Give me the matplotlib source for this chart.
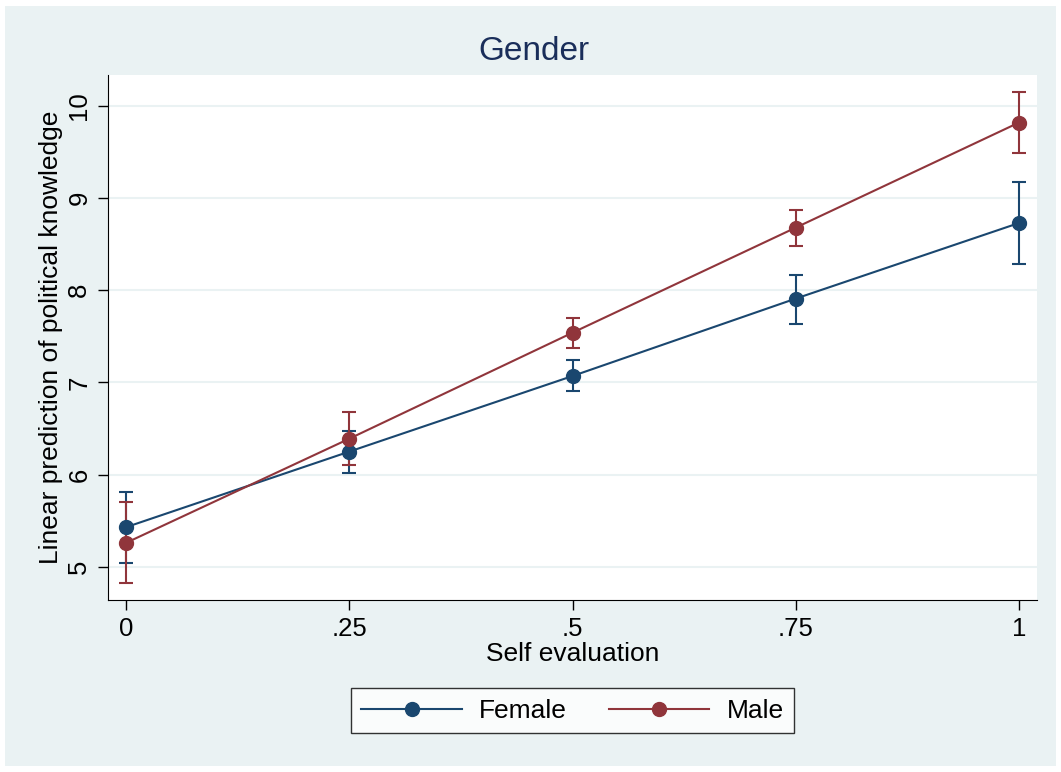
import numpy as np
import matplotlib.pyplot as plt
from matplotlib.patches import Rectangle

plt.rcParams['font.family'] = ['Liberation Sans', 'DejaVu Sans']

x = [0, 0.25, 0.5, 0.75, 1]
xticklabels = ['0', '.25', '.5', '.75', '1']

female = [5.43, 6.25, 7.07, 7.91, 8.73]
female_lo = [5.04, 6.02, 6.91, 7.63, 8.29]
female_hi = [5.81, 6.47, 7.24, 8.17, 9.17]

male = [5.26, 6.39, 7.54, 8.68, 9.82]
male_lo = [4.82, 6.11, 7.37, 8.48, 9.49]
male_hi = [5.70, 6.68, 7.70, 8.87, 10.15]

navy = '#1A476F'
maroon = '#90353B'
bg = '#EAF2F3'

fig = plt.figure(figsize=(10.61, 7.72), dpi=100)
fig.patch.set_facecolor('white')
fig.patches.append(Rectangle((5 / 1061, 6 / 772), 1051 / 1061, 760 / 772,
                             transform=fig.transFigure, facecolor=bg,
                             edgecolor='none', zorder=-10))

ax = fig.add_axes([108 / 1061, 1 - 600 / 772, 929 / 1061, 525 / 772])
ax.set_facecolor('white')


def series(y, lo, hi, color, label):
    y = np.array(y)
    err = [y - np.array(lo), np.array(hi) - y]
    ax.errorbar(x, y, yerr=err, fmt='none', ecolor=color, elinewidth=1.5,
                capsize=5, capthick=1.5, zorder=3)
    ax.plot(x, y, color=color, lw=1.5, marker='o', markersize=10,
            label=label, zorder=4)


series(female, female_lo, female_hi, navy, 'Female')
series(male, male_lo, male_hi, maroon, 'Male')

ax.set_xlim(-0.0202, 1.0202)
ax.set_ylim(4.64, 10.336)
ax.set_xticks(x)
ax.set_xticklabels(xticklabels)
ax.set_yticks([5, 6, 7, 8, 9, 10])
ax.tick_params(labelsize=18.5, length=7, width=1, direction='out', pad=5)
for lab in ax.get_yticklabels():
    lab.set_rotation(90)
    lab.set_va('center')
ax.grid(axis='y', color=bg, lw=1.5)
ax.set_axisbelow(True)
for s in ['top', 'right']:
    ax.spines[s].set_visible(False)

fig.text(534 / 1061, 1 - 52 / 772, 'Gender', fontsize=24, color='#1A2E5A',
         ha='center', va='center')
ax.set_xlabel('Self evaluation', fontsize=19, labelpad=1)
ax.set_ylabel('Linear prediction of political knowledge', fontsize=19, labelpad=3)

leg = ax.legend(loc='center', bbox_to_anchor=(0.5, -0.211), ncol=2,
                fontsize=19, frameon=True, fancybox=False, edgecolor='black',
                handlelength=3.8, handletextpad=0.65, columnspacing=1.6,
                borderpad=0.4)
leg.get_frame().set_linewidth(1)

fig.savefig('out.png', dpi=100, facecolor=fig.get_facecolor())
